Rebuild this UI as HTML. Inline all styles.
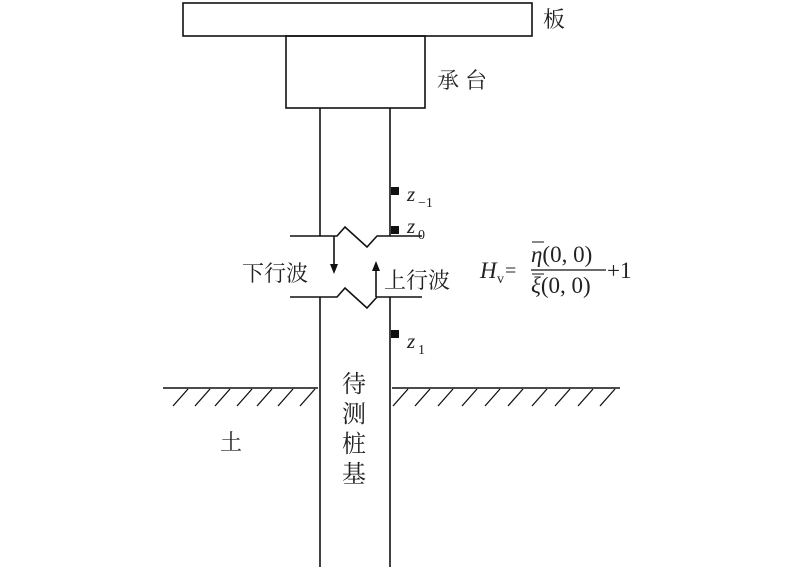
<!DOCTYPE html>
<html><head><meta charset="utf-8"><style>
body{margin:0;background:#fff;}
svg{display:block}
text{font-family:"Liberation Serif","Noto Serif CJK SC",serif;fill:#222}
.c{font-family:"Liberation Serif","Noto Serif CJK SC",serif;}
</style></head><body>
<svg width="800" height="567" viewBox="0 0 800 567" xmlns="http://www.w3.org/2000/svg">
<g stroke="#111" stroke-width="1.6" fill="none">
<rect x="183" y="3" width="349" height="33"/>
<rect x="286" y="36" width="139" height="72"/>
<line x1="320" y1="108" x2="320" y2="236"/>
<line x1="390" y1="108" x2="390" y2="236"/>
<line x1="320" y1="297" x2="320" y2="567"/>
<line x1="390" y1="297" x2="390" y2="567"/>
<polyline points="290,236 337,236 345,227 367,247 377,236 422,236"/>
<polyline points="290,297 337,297 345,288 367,308 377,297 422,297"/>
<line x1="334" y1="236" x2="334" y2="265"/>
<line x1="376" y1="297" x2="376" y2="270"/>
<line x1="163" y1="388" x2="318" y2="388"/>
<line x1="392" y1="388" x2="620" y2="388"/>
<g stroke-width="1.3">
<path d="M173,406l15,-17M195,406l15,-17M215,406l15,-17M237,406l15,-17M257,406l15,-17M278,406l15,-17M300,406l15,-17"/>
<path d="M393,406l15,-17M415,406l15,-17M438,406l15,-17M462,406l15,-17M485,406l15,-17M508,406l15,-17M532,406l15,-17M555,406l15,-17M578,406l15,-17M600,406l15,-17"/>
</g>
<line x1="531" y1="270" x2="606" y2="270" stroke-width="1.2"/>
</g>
<g fill="#111">
<polygon points="330,264 338,264 334,274"/>
<polygon points="372,271 380,271 376,261"/>
<rect x="391" y="187" width="8" height="8"/>
<rect x="391" y="226" width="8" height="8"/>
<rect x="391" y="330" width="8" height="8"/>
</g>
<text class="c" x="543" y="27" font-size="22">板</text>
<text class="c" x="437" y="88" font-size="22" letter-spacing="6">承台</text>
<text class="c" x="242" y="281" font-size="22">下行波</text>
<text class="c" x="384" y="288" font-size="22">上行波</text>
<text class="c" x="220" y="450" font-size="22">土</text>
<g font-size="24">
<text class="c" x="342" y="392">待</text>
<text class="c" x="342" y="422">测</text>
<text class="c" x="342" y="452">桩</text>
<text class="c" x="342" y="482">基</text>
</g>
<text x="407" y="201" font-size="21" font-style="italic">z</text><text x="418" y="207" font-size="14">−1</text>
<text x="407" y="233" font-size="21" font-style="italic">z</text><text x="418" y="239" font-size="14">0</text>
<text x="407" y="348" font-size="21" font-style="italic">z</text><text x="418" y="354" font-size="14">1</text>
<text x="480" y="278" font-size="23" font-style="italic">H</text><text x="497" y="283" font-size="14">v</text>
<text x="505" y="277" font-size="20">=</text>
<text x="531" y="262" font-size="23"><tspan font-style="italic">η</tspan>(0, 0)</text>
<line x1="532" y1="242" x2="544" y2="242" stroke="#111" stroke-width="1"/>
<text x="531" y="293" font-size="23"><tspan font-style="italic">ξ</tspan>(0, 0)</text>
<line x1="532" y1="274" x2="544" y2="274" stroke="#111" stroke-width="1"/>
<text x="607" y="278" font-size="23">+1</text>
</svg>
</body></html>
